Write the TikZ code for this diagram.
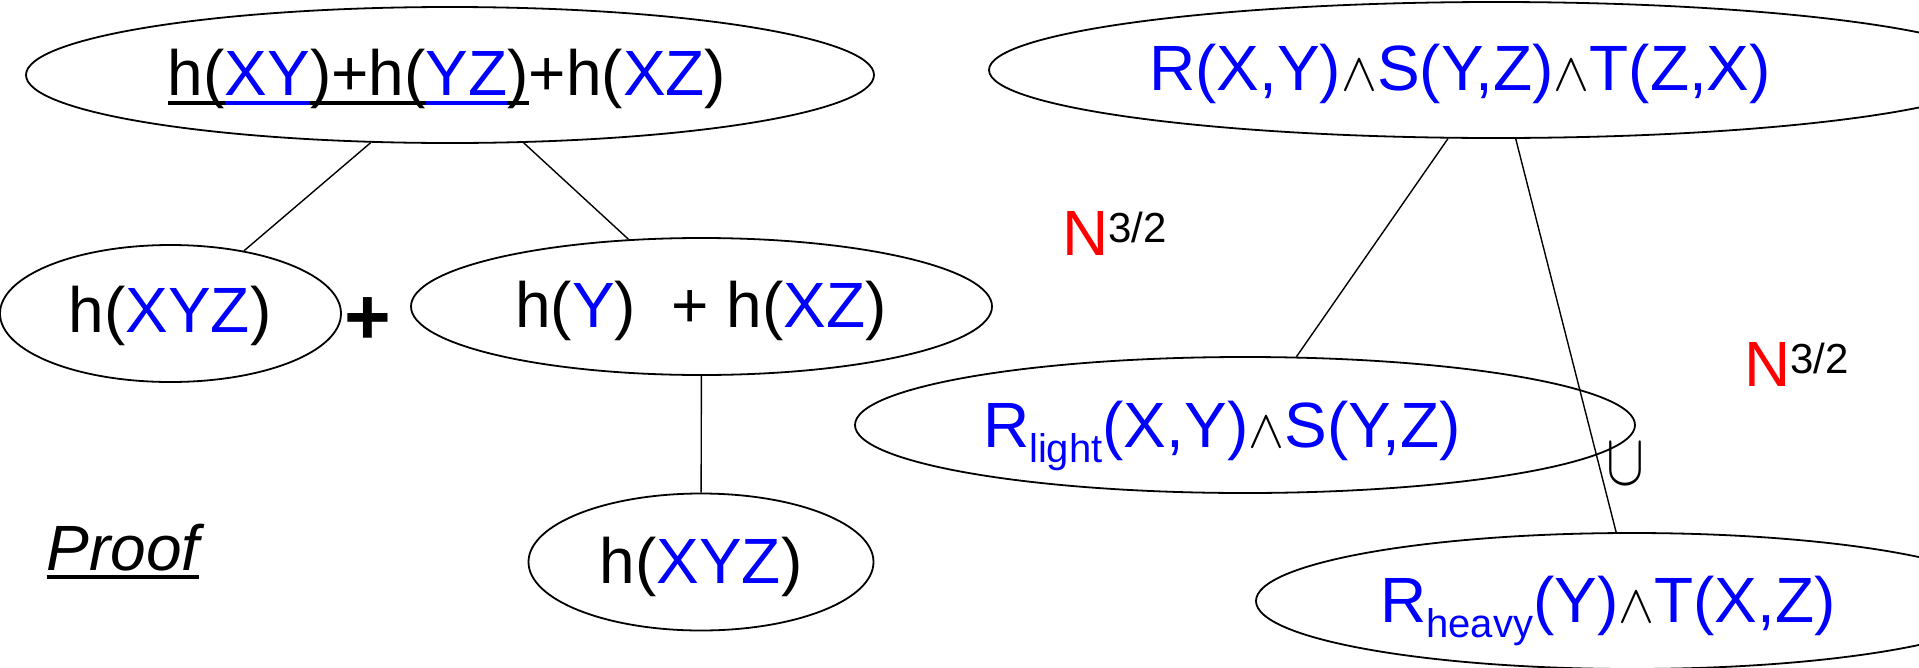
\documentclass[tikz,border=0pt]{standalone}
\usepackage{fontspec}
\setmainfont{Liberation Sans}
\usepackage{graphicx}
\usetikzlibrary{shapes.geometric}
\newcommand\ulseg[2][-10pt]{\leavevmode\setbox0\hbox{#2}\rlap{\rule[#1]{\wd0}{4.5pt}}\box0}
\newcommand\andop{{\fontsize{10}{12}\selectfont\scalebox{5.4}{$\wedge$}}}
\newcommand\bl[1]{\textcolor{blue}{#1}}
\newcommand\subtxt[1]{\raisebox{-15pt}{\fontsize{40}{40}\selectfont #1}}
\newcommand\suptxt[1]{\raisebox{13pt}{\fontsize{42}{42}\selectfont #1}}
\begin{document}
\begin{tikzpicture}[x=1pt,y=-1pt,
  ell/.style 2 args={draw, ellipse, line width=1.8pt, inner sep=0pt, minimum width=#1, minimum height=#2},
  txt/.style={anchor=base, inner sep=0pt, font=\fontsize{64}{76}\selectfont},
  conn/.style={line width=1.4pt}]
\useasboundingbox (0,0) rectangle (1919,667);
\clip (0,0) rectangle (1919,667);
% ellipses
\node[ell={848pt}{136pt}] (tl) at (450,75) {};
\node[ell={341pt}{137pt}] (hxyz1) at (170.5,313.5) {};
\node[ell={581pt}{137pt}] (hyxz) at (701.5,306.5) {};
\node[ell={345pt}{137pt}] (hxyz2) at (701,562) {};
\node[ell={1014pt}{136pt}] (rt) at (1496,70) {};
\node[ell={780pt}{136pt}] (rl) at (1245,425) {};
\node[ell={752pt}{136pt}] (rh) at (1632,601) {};
% texts
\node[txt] (tltxt) at (447,95) {\ulseg{h(}\bl{\ulseg{XY}}\ulseg{)+h(}\bl{\ulseg{YZ}}\ulseg{)}+h(\bl{XZ})};
\node[txt] (hxyz1txt) at (170,332) {h(\bl{XYZ})};
\node[font=\fontsize{80}{80}\selectfont\bfseries, inner sep=0pt] (plus) at (368,321) {+};
\node[txt] (hyxztxt) at (701,327) {h(\bl{Y})\ \ + h(\bl{XZ})};
\node[txt] (hxyz2txt) at (701,583) {h(\bl{XYZ})};
\node[txt, font=\fontsize{64}{76}\selectfont\itshape] (proof) at (123,570) {\ulseg[-9pt]{Proof}};
\node[txt] (rttxt) at (1460,90) {\bl{R(X,Y)}\andop\bl{S(Y,Z)}\andop\bl{T(Z,X)}};
\node[txt] (rltxt) at (1222,447) {\bl{R\subtxt{light}(X,Y)}\andop\bl{S(Y,Z)}};
\node[txt] (rhtxt) at (1608,622) {\bl{R\subtxt{heavy}(Y)}\andop\bl{T(X,Z)}};
\node[txt, anchor=base west] (n1) at (1062,255) {\textcolor{red}{N}\suptxt{3/2}};
\node[txt, anchor=base west] (n2) at (1744,386) {\textcolor{red}{N}\suptxt{3/2}};
\node[inner sep=0pt] (cup) at (1625,464) {\fontsize{10}{12}\selectfont\scalebox{5.7}[7.3]{$\cup$}};
% connectors
\draw[conn] (tl) -- (hxyz1);
\draw[conn] (tl) -- (hyxz);
\draw[conn] (hyxz) -- (hxyz2);
\draw[conn] (rt.235) -- (rl.53);
\draw[conn] (rt.286) -- (rh.103);
\end{tikzpicture}
\end{document}
